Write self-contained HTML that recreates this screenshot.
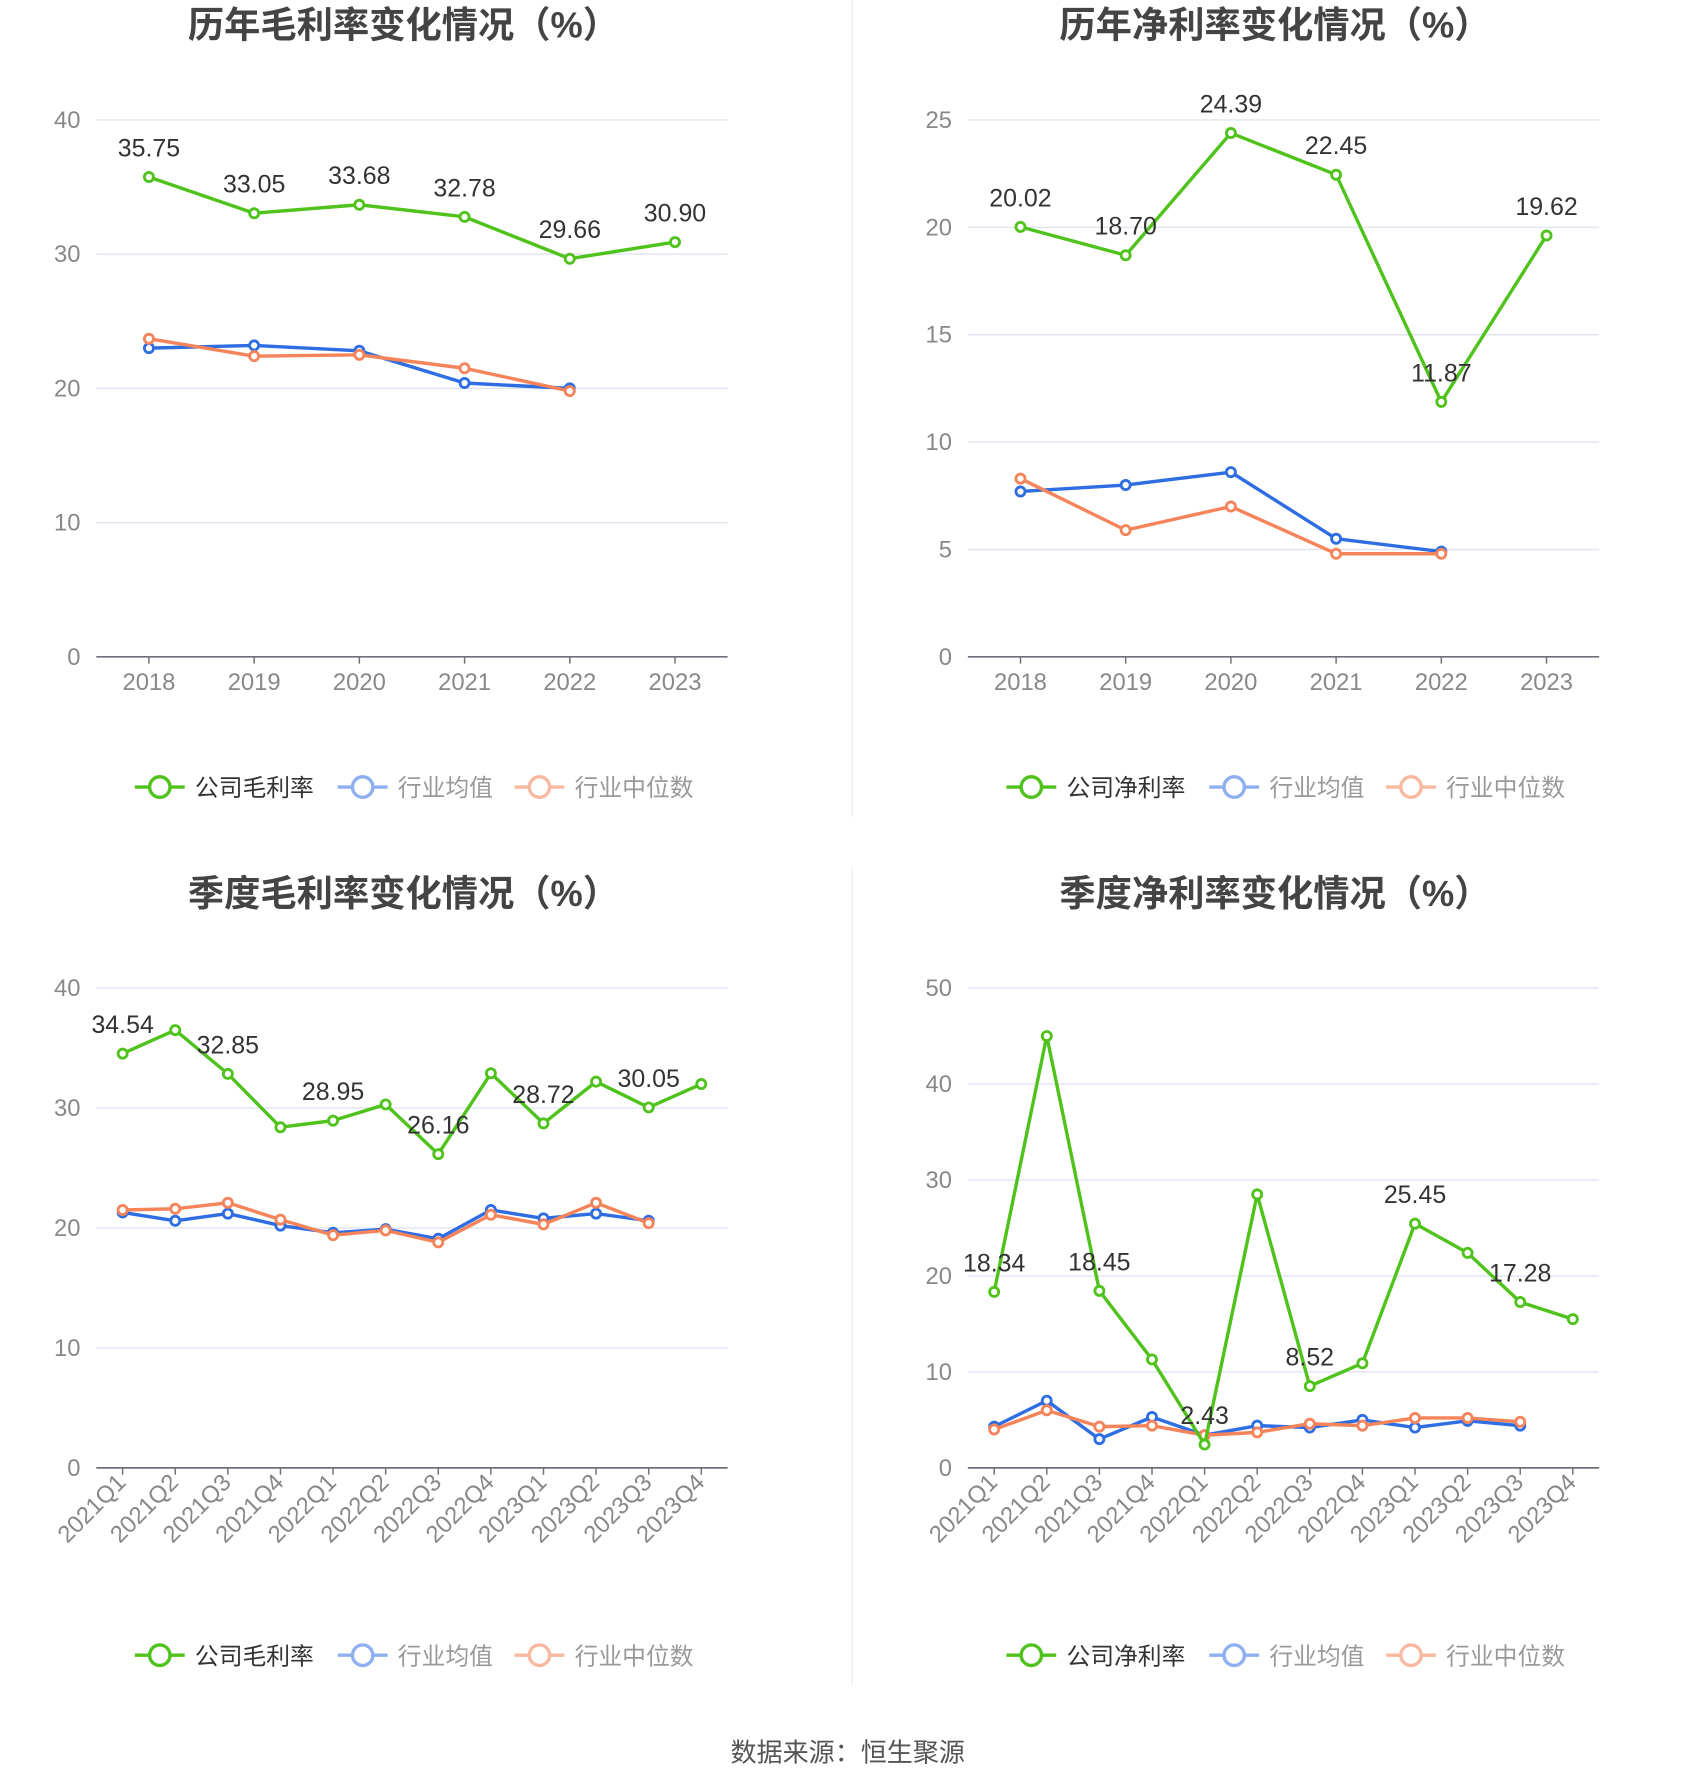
<!DOCTYPE html>
<html><head><meta charset="utf-8">
<style>
html,body{margin:0;padding:0;background:#fff;}
svg{display:block;font-family:"Liberation Sans","Noto Sans CJK SC",sans-serif;}
</style></head>
<body>
<svg id="root" width="1700" height="1782" viewBox="0 0 1500 1560" preserveAspectRatio="none" xmlns="http://www.w3.org/2000/svg">
<rect x="0" y="0" width="1500" height="1560" fill="#fff"/>
<line x1="752" y1="0" x2="752" y2="715" stroke="#eee" stroke-width="1.5"/>
<line x1="752" y1="760" x2="752" y2="1475" stroke="#eee" stroke-width="1.5"/>
<text x="748" y="1542" text-anchor="middle" font-size="23" fill="#555">数据来源：恒生聚源</text>
</svg>
<script>
const years=['2018','2019','2020','2021','2022','2023'];
const quarters=['2021Q1','2021Q2','2021Q3','2021Q4','2022Q1','2022Q2','2022Q3','2022Q4','2023Q1','2023Q2','2023Q3','2023Q4'];
const c1Company=[35.75,33.05,33.68,32.78,29.66,30.90];
const c1Avg=[23.0,23.2,22.8,20.4,20.0];
const c1Med=[23.7,22.4,22.5,21.5,19.8];
const c1Ticks=[0,10,20,30,40];
const c2Company=[20.02,18.70,24.39,22.45,11.87,19.62];
const c2Avg=[7.7,8.0,8.6,5.5,4.9];
const c2Med=[8.3,5.9,7.0,4.8,4.8];
const c2Ticks=[0,5,10,15,20,25];
const c3Company=[34.54,36.5,32.85,28.4,28.95,30.3,26.16,32.9,28.72,32.2,30.05,32.0];
const c3Avg=[21.3,20.6,21.2,20.2,19.6,19.9,19.1,21.5,20.8,21.2,20.6];
const c3Med=[21.5,21.6,22.1,20.7,19.4,19.8,18.8,21.1,20.3,22.1,20.4];
const c3Ticks=[0,10,20,30,40];
const c4Company=[18.34,45.0,18.45,11.3,2.43,28.5,8.52,10.9,25.45,22.4,17.28,15.5];
const c4Avg=[4.3,7.0,3.0,5.3,3.4,4.4,4.2,5.0,4.2,4.9,4.4];
const c4Med=[4.0,6.0,4.3,4.4,3.4,3.7,4.6,4.4,5.2,5.2,4.8];
const c4Ticks=[0,10,20,30,40,50];
const c1Labels=[0,1,2,3,4,5];
const c3Labels=[0,2,4,6,8,10];

const NS='http://www.w3.org/2000/svg';
const root=document.getElementById('root');
const GREEN='#4fc31c',BLUE='#2f6de3',ORANGE='#f5845a';
function el(tag,attrs,parent){const e=document.createElementNS(NS,tag);for(const k in attrs)e.setAttribute(k,attrs[k]);(parent||root).appendChild(e);return e;}

function chart(o){
  const g=el('g',{});
  
  
  const L=o.x0,R=o.x0+557,T=o.top,B=o.top+o.h;
  const max=o.ticks[o.ticks.length-1];
  const y=v=>B-(v/max)*(B-T);
  const n=o.cats.length,bw=(R-L)/n;
  const x=i=>L+bw*(i+0.5);
  const t=el('text',{x:o.x0+271,y:o.top-72,'text-anchor':'middle','font-size':32,'font-weight':'bold',fill:'#444'},g);
  t.textContent=o.title;
  
  
  o.ticks.forEach(v=>{
    if(v>0){const gl=el('line',{x1:L,x2:R,y1:y(v),y2:y(v),stroke:'#e0e6f1','stroke-width':1.3},g);
      
      }
    const tl=el('text',{x:L-14,y:y(v)+7,'text-anchor':'end','font-size':21,fill:'#888'},g);
    tl.textContent=v;
    
    
  });
  const ax=el('line',{x1:L,x2:R,y1:B,y2:B,stroke:'#6e7079','stroke-width':1.5},g);
  
  
  o.cats.forEach((c,i)=>{
    el('line',{x1:x(i),x2:x(i),y1:B,y2:B+6,stroke:'#6e7079','stroke-width':1.3},g);
    let lab;
    if(o.rot){lab=el('text',{x:x(i)+4,y:B+14,'text-anchor':'end','font-size':21,fill:'#888',transform:`rotate(-45 ${x(i)+4} ${B+14})`},g);}
    else lab=el('text',{x:x(i),y:B+29,'text-anchor':'middle','font-size':21,fill:'#888'},g);
    lab.textContent=c;
    
    
  });
  function series(vals,color,nm){
    const pts=vals.map((v,i)=>x(i)+','+y(v)).join(' ');
    const pl=el('polyline',{points:pts,fill:'none',stroke:color,'stroke-width':3,'stroke-linejoin':'round'},g);
    
    
    vals.forEach((v,i)=>{
      const c=el('circle',{cx:x(i),cy:y(v),r:4,fill:'#fff',stroke:color,'stroke-width':2.5},g);
      
      
    });
  }
  series(o.avg,BLUE,'industry-average');
  series(o.med,ORANGE,'industry-median');
  series(o.comp,GREEN,'company');
  o.labels.forEach(i=>{
    const vl=el('text',{x:x(i),y:y(o.comp[i])-18,'text-anchor':'middle','font-size':22,fill:'#333'},g);
    vl.textContent=o.comp[i].toFixed(2);
    
    
  });
  const ly=o.top+584, lx=o.x0+34;
  const items=[[o.legend,GREEN,'#333'],['行业均值','#8fb0f0','#999'],['行业中位数','#f9b9a0','#999']];
  const offs=[0,179,335];
  items.forEach((it,k)=>{
    const gx=lx+offs[k];
    const lg=el('g',{},g);
    
    
    el('line',{x1:gx,x2:gx+44,y1:ly,y2:ly,stroke:it[1],'stroke-width':3},lg);
    el('circle',{cx:gx+22,cy:ly,r:9,fill:'#fff',stroke:it[1],'stroke-width':3},lg);
    const tx=el('text',{x:gx+53,y:ly+8,'font-size':21,fill:it[2]},lg);
    tx.textContent=it[0];
  });
}
chart({name:'annual-gross-margin-chart',title:'历年毛利率变化情况（%）',x0:85,top:105,h:470,cats:years,ticks:c1Ticks,comp:c1Company,avg:c1Avg,med:c1Med,labels:c1Labels,legend:'公司毛利率',rot:false});
chart({name:'annual-net-margin-chart',title:'历年净利率变化情况（%）',x0:854,top:105,h:470,cats:years,ticks:c2Ticks,comp:c2Company,avg:c2Avg,med:c2Med,labels:c1Labels,legend:'公司净利率',rot:false});
chart({name:'quarterly-gross-margin-chart',title:'季度毛利率变化情况（%）',x0:85,top:865,h:420,cats:quarters,ticks:c3Ticks,comp:c3Company,avg:c3Avg,med:c3Med,labels:c3Labels,legend:'公司毛利率',rot:true});
chart({name:'quarterly-net-margin-chart',title:'季度净利率变化情况（%）',x0:854,top:865,h:420,cats:quarters,ticks:c4Ticks,comp:c4Company,avg:c4Avg,med:c4Med,labels:c3Labels,legend:'公司净利率',rot:true});
</script>
</body></html>
